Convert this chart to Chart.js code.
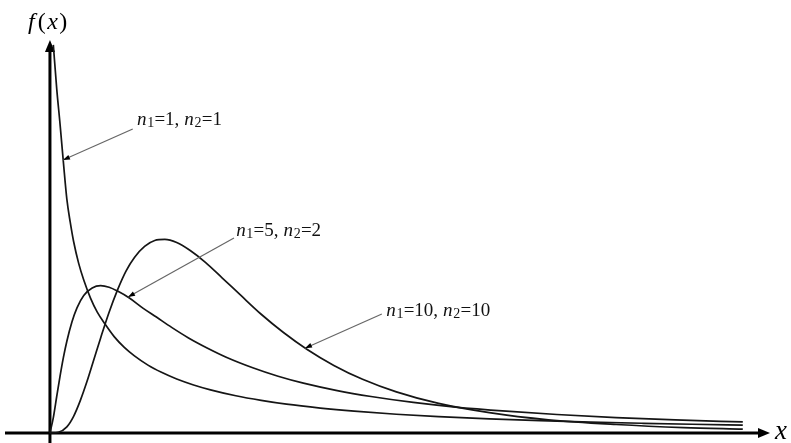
<!DOCTYPE html>
<html>
<head>
<meta charset="utf-8">
<script src="https://cdn.jsdelivr.net/npm/chart.js@4/dist/chart.umd.min.js"></script>
<style>
  html, body { margin: 0; padding: 0; background: #ffffff; }
  #wrap { width: 791px; height: 443px; }
</style>
</head>
<body>
<div id="wrap"><canvas id="c" width="791" height="443"></canvas></div>
<script>
// F-distribution densities f(x) for three pairs of degrees of freedom
const x_1_1 = [0.02, 0.04, 0.06, 0.08, 0.10, 0.12, 0.14, 0.17, 0.20, 0.24, 0.28, 0.33, 0.38, 0.44, 0.50, 0.58, 0.66, 0.75, 0.85, 0.95, 1.10, 1.25, 1.40, 1.60, 1.80, 2.05, 2.30, 2.60, 2.90, 3.20, 3.50, 3.80, 4.10];
const f_1_1 = [1.51, 1.34, 1.20, 1.05, 0.91, 0.82, 0.745, 0.66, 0.595, 0.525, 0.47, 0.42, 0.375, 0.333, 0.30, 0.264, 0.236, 0.21, 0.187, 0.168, 0.145, 0.127, 0.112, 0.097, 0.085, 0.073, 0.064, 0.055, 0.048, 0.0425, 0.038, 0.034, 0.031];

const x_5_2 = [0, 0.02, 0.04, 0.06, 0.08, 0.10, 0.13, 0.16, 0.20, 0.25, 0.30, 0.35, 0.40, 0.47, 0.55, 0.63, 0.72, 0.82, 0.93, 1.05, 1.20, 1.35, 1.50, 1.70, 1.90, 2.15, 2.40, 2.70, 3.00, 3.35, 3.70, 4.10];
const f_5_2 = [0, 0.06, 0.142, 0.222, 0.295, 0.357, 0.432, 0.487, 0.535, 0.564, 0.573, 0.567, 0.552, 0.525, 0.486, 0.451, 0.411, 0.37, 0.331, 0.293, 0.254, 0.221, 0.194, 0.165, 0.142, 0.119, 0.101, 0.085, 0.072, 0.06, 0.051, 0.043];

const x_10_10 = [0, 0.05, 0.10, 0.14, 0.18, 0.22, 0.26, 0.30, 0.35, 0.40, 0.45, 0.50, 0.56, 0.62, 0.68, 0.75, 0.83, 0.92, 1.02, 1.13, 1.25, 1.38, 1.52, 1.68, 1.85, 2.05, 2.30, 2.60, 2.95, 3.35, 3.75, 4.10];
const f_10_10 = [0, 0.003, 0.024, 0.065, 0.127, 0.202, 0.286, 0.37, 0.47, 0.557, 0.63, 0.683, 0.726, 0.749, 0.753, 0.741, 0.71, 0.664, 0.603, 0.535, 0.462, 0.392, 0.326, 0.263, 0.209, 0.16, 0.115, 0.079, 0.051, 0.033, 0.021, 0.015];

const seriesNames = ['n1=1, n2=1', 'n1=5, n2=2', 'n1=10, n2=10'];

// label rich-text pieces: [text, style] where style is 'i' italic, 's' subscript, '' plain
const labelParts = [
  [['n','i'],['1','s'],['=1, ',''],['n','i'],['2','s'],['=1','']],
  [['n','i'],['1','s'],['=5, ',''],['n','i'],['2','s'],['=2','']],
  [['n','i'],['1','s'],['=10, ',''],['n','i'],['2','s'],['=10','']]
];

// callout geometry in data units: text anchor, leader start, arrow tip on the curve
const callouts = [
  { text: [0.515, 1.222], from: [0.49, 1.183], tip: [0.077, 1.062] },
  { text: [1.102, 0.790], from: [1.089, 0.759], tip: [0.462, 0.529] },
  { text: [1.990, 0.479], from: [1.964, 0.463], tip: [1.509, 0.330] }
];

const toPts = (xs, ys) => xs.map((x, i) => ({ x: x, y: ys[i] }));

const SERIF = '"Liberation Serif", "DejaVu Serif", serif';

function drawRich(ctx, parts, x, y, size) {
  let cx = x;
  ctx.textBaseline = 'alphabetic';
  ctx.textAlign = 'left';
  for (const [t, st] of parts) {
    let fs = size, dy = 0, style = '';
    if (st === 'i') style = 'italic ';
    if (st === 's') { fs = Math.round(size * 0.72); dy = size * 0.12; }
    ctx.font = style + fs + 'px ' + SERIF;
    ctx.fillText(t, cx, y + dy);
    cx += ctx.measureText(t).width + (st === 'i' ? 0.7 : 0.2);
  }
}

function arrowHead(ctx, x0, y0, x1, y1, len, half) {
  const a = Math.atan2(y1 - y0, x1 - x0);
  ctx.beginPath();
  ctx.moveTo(x1, y1);
  ctx.lineTo(x1 - len * Math.cos(a) + half * Math.sin(a), y1 - len * Math.sin(a) - half * Math.cos(a));
  ctx.lineTo(x1 - len * Math.cos(a) - half * Math.sin(a), y1 - len * Math.sin(a) + half * Math.cos(a));
  ctx.closePath();
  ctx.fill();
}

const axesAndLabels = {
  id: 'axesAndLabels',
  beforeDatasetsDraw(chart) {
    const { ctx, chartArea: ca, scales: { x, y } } = chart;
    const x0 = x.getPixelForValue(0), y0 = y.getPixelForValue(0);
    ctx.save();
    ctx.strokeStyle = '#000';
    ctx.fillStyle = '#000';
    ctx.lineWidth = 3;
    // horizontal axis
    ctx.beginPath();
    ctx.moveTo(ca.left, y0);
    ctx.lineTo(ca.right - 8, y0);
    ctx.stroke();
    arrowHead(ctx, ca.left, y0, ca.right, y0, 12, 5);
    // vertical axis
    ctx.beginPath();
    ctx.moveTo(x0, ca.bottom);
    ctx.lineTo(x0, ca.top + 8);
    ctx.stroke();
    arrowHead(ctx, x0, ca.bottom, x0, ca.top, 12, 5);
    ctx.restore();
  },
  afterDatasetsDraw(chart) {
    const { ctx, chartArea: ca, scales: { x, y } } = chart;
    const y0 = y.getPixelForValue(0);
    ctx.save();
    // callout leaders with small arrowheads
    callouts.forEach((c, i) => {
      const fx = x.getPixelForValue(c.from[0]), fy = y.getPixelForValue(c.from[1]);
      const tx = x.getPixelForValue(c.tip[0]), ty = y.getPixelForValue(c.tip[1]);
      ctx.strokeStyle = '#666';
      ctx.lineWidth = 1.2;
      ctx.beginPath();
      ctx.moveTo(fx, fy);
      ctx.lineTo(tx, ty);
      ctx.stroke();
      ctx.fillStyle = '#000';
      arrowHead(ctx, fx, fy, tx, ty, 7, 2.5);
      ctx.fillStyle = '#111';
      const lx = x.getPixelForValue(c.text[0]), ly = y.getPixelForValue(c.text[1]);
      drawRich(ctx, labelParts[i], lx, ly + 6, 19);
    });
    // axis titles
    ctx.fillStyle = '#000';
    ctx.textBaseline = 'alphabetic';
    let px = 28, py = 29;
    const parts = [['f', 'italic '], ['(', ''], ['x', 'italic '], [')', '']];
    for (const [t, st] of parts) {
      ctx.font = st + '24px ' + SERIF;
      ctx.fillText(t, px, py);
      px += ctx.measureText(t).width + (t === 'f' ? 3 : 1.5);
    }
    ctx.font = 'italic 27px ' + SERIF;
    ctx.fillText('x', ca.right + 5, y0 + 6);
    ctx.restore();
  }
};

const lineStyle = {
  borderColor: '#151515',
  borderWidth: 1.7,
  pointRadius: 0,
  fill: false,
  cubicInterpolationMode: 'monotone'
};

new Chart(document.getElementById('c'), {
  type: 'line',
  data: {
    datasets: [
      Object.assign({ label: seriesNames[0], data: toPts(x_1_1, f_1_1) }, lineStyle),
      Object.assign({ label: seriesNames[1], data: toPts(x_5_2, f_5_2) }, lineStyle),
      Object.assign({ label: seriesNames[2], data: toPts(x_10_10, f_10_10) }, lineStyle)
    ]
  },
  options: {
    responsive: false,
    devicePixelRatio: 1,
    animation: false,
    layout: { padding: { left: 5, right: 21, top: 40, bottom: 0 } },
    plugins: { legend: { display: false }, tooltip: { enabled: false } },
    scales: {
      x: { type: 'linear', min: -0.266, max: 4.261, display: false },
      y: { type: 'linear', min: -0.0389, max: 1.529, display: false }
    }
  },
  plugins: [axesAndLabels]
});
</script>
</body>
</html>
